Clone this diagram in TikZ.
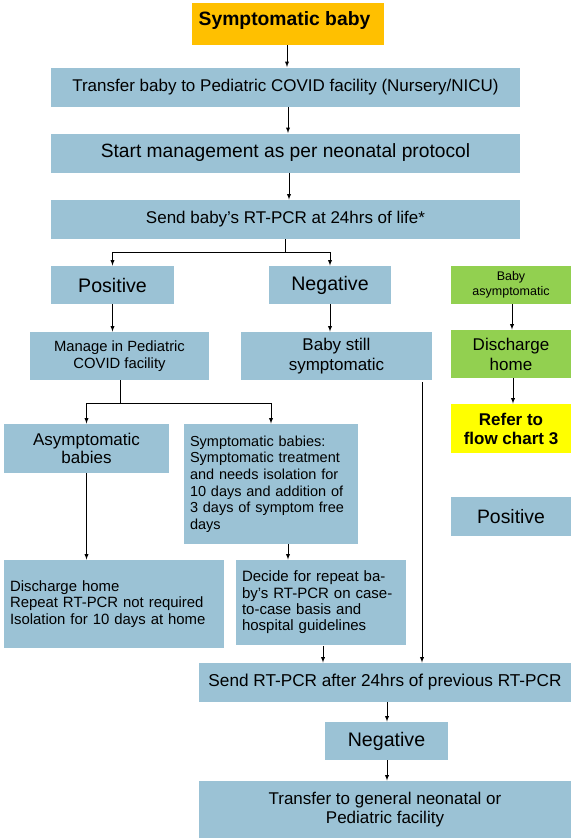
\documentclass[tikz,border=0pt]{standalone}
\usepackage{fontspec}
\setmainfont{Liberation Sans}
\usepackage{tikz}
\usetikzlibrary{calc,arrows}
\definecolor{boxblue}{RGB}{155,194,213}
\definecolor{boxgreen}{RGB}{146,208,80}
\definecolor{boxorange}{RGB}{255,192,0}
\definecolor{boxyellow}{RGB}{255,255,0}
\newcommand{\fs}[1]{\fontsize{#1}{1.15\dimexpr#1pt\relax}\selectfont}

\begin{document}
\begin{tikzpicture}[x=1pt,y=-1pt,
    >=latex,
    box/.style={fill=boxblue, inner sep=0pt, align=center},
    lbox/.style={box, align=left, inner sep=6pt},
    every path/.style={line width=0.9pt}
  ]
  \useasboundingbox (0,0) rectangle (571,838);

  \node[box, fill=boxorange, minimum width=192pt, minimum height=42pt] (symp) at (288,24) {};
  \node[font=\fs{19.3}\bfseries, inner sep=0pt] (symptxt) at (284.5,20.5) {Symptomatic baby};
  \node[box, minimum width=469pt, minimum height=39pt, font=\fs{17}] (transfer) at (285.5,87) {Transfer baby to Pediatric COVID facility (Nursery/NICU)};
  \node[box, minimum width=469pt, minimum height=39pt, font=\fs{19.2}] (start) at (285.5,153) {Start management as per neonatal protocol};
  \node[box, minimum width=469pt, minimum height=39pt, font=\fs{17}] (send) at (285.5,219.5) {Send baby’s RT-PCR at 24hrs of life*};

  \node[box, minimum width=123pt, minimum height=38pt, font=\fs{19.6}] (pos) at (112.5,285) {Positive};
  \node[box, minimum width=122pt, minimum height=38pt, font=\fs{19.6}] (neg) at (330,285) {Negative};
  \node[box, fill=boxgreen, minimum width=120pt, minimum height=38pt, font=\fontsize{12.5}{15}\selectfont] (babyasym) at (511,285) {Baby\\asymptomatic};

  \node[box, minimum width=179pt, minimum height=48pt, font=\fontsize{14.8}{17}\selectfont] (manage) at (119.5,356) {Manage in Pediatric\\COVID facility};
  \node[box, minimum width=191pt, minimum height=48pt, font=\fontsize{17}{19.5}\selectfont] (still) at (336.5,356) {Baby still\\symptomatic};
  \node[box, fill=boxgreen, minimum width=120pt, minimum height=48pt, font=\fontsize{17}{20}\selectfont] (dischg) at (511,354) {Discharge\\home};
  \node[box, fill=boxyellow, minimum width=120pt, minimum height=49pt, font=\fontsize{17}{19}\selectfont\bfseries] (refer) at (511,428.5) {Refer to\\flow chart 3};

  \node[box, minimum width=165pt, minimum height=49pt, font=\fontsize{17}{18.5}\selectfont] (asymb) at (86.5,448.5) {Asymptomatic\\babies};
  \node[lbox, minimum width=174pt, minimum height=120pt, text width=162pt, font=\fontsize{14.5}{16.7}\selectfont] (sympb) at (271,484) {Symptomatic babies:\\Symptomatic treatment\\and needs isolation for\\10 days and addition of\\3 days of symptom free\\days};
  \node[box, minimum width=120pt, minimum height=39pt, font=\fs{19.4}] (posr) at (511,516.5) {Positive};

  \node[lbox, minimum width=220pt, minimum height=88pt, text width=208pt, font=\fontsize{14.9}{16.7}\selectfont] (dishome) at (114,604) {Discharge home\\Repeat RT-PCR not required\\Isolation for 10 days at home};
  \node[lbox, minimum width=170pt, minimum height=85pt, text width=158pt, font=\fontsize{15}{16.3}\selectfont] (decide) at (321,602.5) {Decide for repeat ba-\\by’s RT-PCR on case-\\to-case basis and\\hospital guidelines};

  \node[box, minimum width=372pt, minimum height=39pt, font=\fs{17.2}] (sendr) at (385,682.5) {Send RT-PCR after 24hrs of previous RT-PCR};
  \node[box, minimum width=123pt, minimum height=38pt, font=\fs{19.6}] (negr) at (386.5,741) {Negative};
  \node[box, minimum width=372pt, minimum height=57pt, font=\fontsize{17}{19}\selectfont] (transferg) at (385,809.5) {Transfer to general neonatal or\\Pediatric facility};

  \coordinate (split1) at (285.5,252);
  \coordinate (split2) at (120,403);
  \coordinate (stillout) at (422,382);

  \draw[->] (symp.south -| 287,0) -- (transfer.north -| 287,0);
  \draw[->] (transfer.south -| 288,0) -- (start.north -| 288,0);
  \draw[->] (start.south -| 289,0) -- (send.north -| 289,0);

  \draw (send.south) -- (split1);
  \draw[->] (split1) -| (pos.north);
  \draw[->] (split1) -| (neg.north);

  \draw[->] (pos.south) -- (pos.south |- manage.north);
  \draw[->] (neg.south) -- (neg.south |- still.north);

  \draw (manage.south -| split2) -- (split2);
  \draw[->] (split2) -| (asymb.north);
  \draw[->] (split2) -| (sympb.north -| 271,0);

  \draw[->] (babyasym.south -| 512,0) -- (dischg.north -| 512,0);
  \draw[->] (dischg.south -| 513,0) -- (refer.north -| 513,0);

  \draw[->] (asymb.south) -- (asymb.south |- dishome.north);
  \draw[->] (sympb.south -| 288,0) -- (decide.north -| 288,0);
  \draw[->] ($(decide.south -| 323,0)+(0,1)$) -- (sendr.north -| 323,0);
  \draw[->] (stillout) -- (sendr.north -| stillout);

  \draw[->] (sendr.south -| 387,0) -- (negr.north -| 387,0);
  \draw[->] (negr.south -| 387,0) -- (transferg.north -| 387,0);
\end{tikzpicture}
\end{document}
